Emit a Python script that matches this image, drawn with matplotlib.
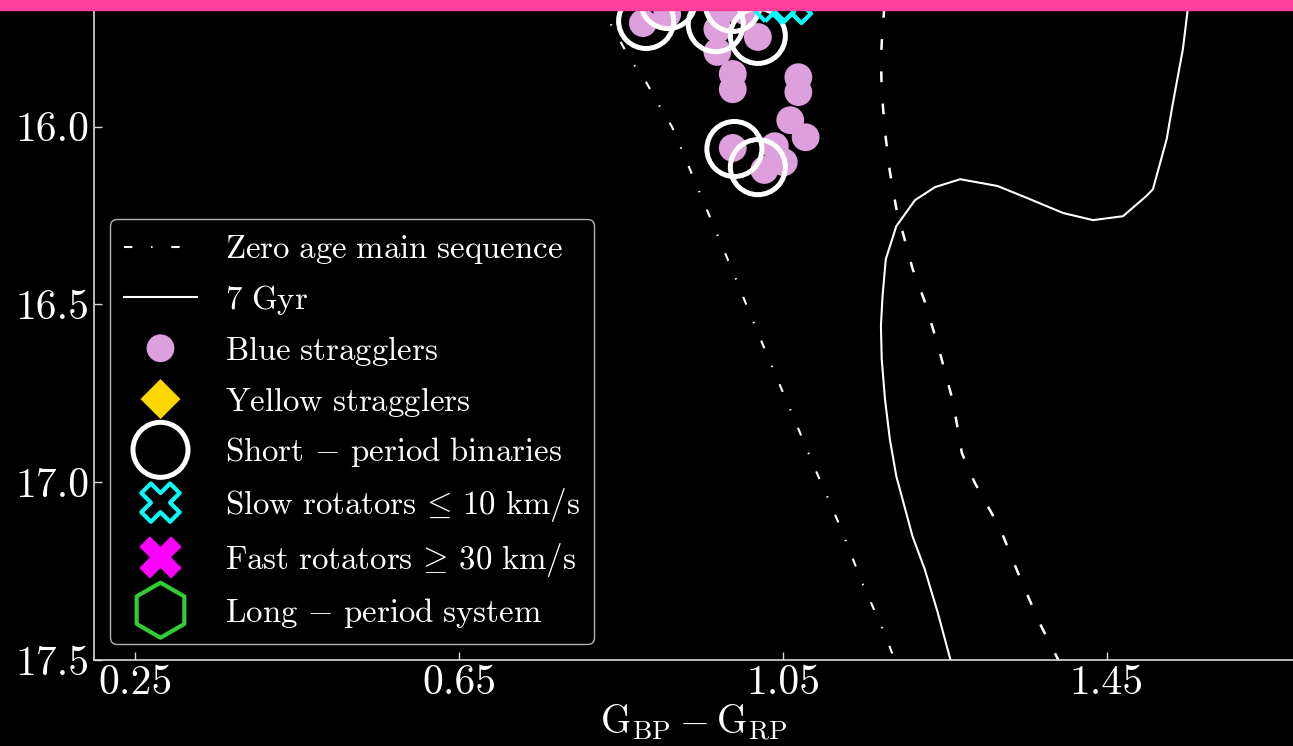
import matplotlib
matplotlib.use("Agg")
import numpy as np
import matplotlib.pyplot as plt
from matplotlib.patches import Rectangle

plt.rcParams["font.family"] = "serif"
plt.rcParams["font.serif"] = ["cmr10"]
plt.rcParams["mathtext.fontset"] = "cm"
plt.rcParams["axes.formatter.use_mathtext"] = True

# --- Colour-magnitude data (G_BP - G_RP, G) ---
zams_color = [0.824, 0.831, 0.846, 0.862, 0.881, 0.897, 0.913, 0.938, 0.964,
              0.990, 1.015, 1.041, 1.067, 1.093, 1.120, 1.149, 1.175, 1.190]
zams_mag = [15.627, 15.686, 15.748, 15.813, 15.875, 15.940, 16.001, 16.136,
            16.277, 16.418, 16.558, 16.699, 16.839, 16.980, 17.121, 17.289,
            17.422, 17.512]

iso_color = [1.392, 1.367, 1.343, 1.318, 1.287, 1.271, 1.260, 1.241, 1.225,
             1.210, 1.201, 1.190, 1.182, 1.176, 1.172, 1.171, 1.173, 1.177,
             1.190, 1.213, 1.238, 1.269, 1.315, 1.355, 1.396, 1.433, 1.470,
             1.499, 1.507, 1.524, 1.531, 1.544, 1.550, 1.554]
iso_mag = [18.261, 18.149, 18.023, 17.882, 17.755, 17.671, 17.526, 17.365,
           17.244, 17.152, 17.076, 16.983, 16.879, 16.766, 16.654, 16.561,
           16.477, 16.373, 16.280, 16.207, 16.170, 16.148, 16.167, 16.204,
           16.243, 16.263, 16.252, 16.195, 16.176, 16.035, 15.942, 15.782,
           15.670, 15.613]
binary_offset = 0.753  # equal-mass binary sequence, 2.5 log10(2)

bss_color = [0.877, 0.907, 0.969, 0.969, 0.988, 0.988, 1.019, 1.003, 1.069,
             1.069, 1.059, 1.078, 0.988, 1.040, 1.051, 1.027, 0.975]
bss_mag = [15.709, 15.684, 15.726, 15.790, 15.852, 15.895, 15.748, 15.675,
           15.861, 15.903, 15.982, 16.030, 16.060, 16.055, 16.100, 16.122,
           15.675]

yss_color = []
yss_mag = []

spb_color = [0.881, 0.908, 0.967, 0.988, 1.019, 0.990, 1.019]
spb_mag = [15.703, 15.647, 15.712, 15.655, 15.745, 16.063, 16.114]

slow_color = [1.040, 1.061]
slow_mag = [15.650, 15.655]

fast_color = []
fast_mag = []

long_color = []
long_mag = []

xticks = [0.25, 0.65, 1.05, 1.45]
xtick_labels = ["0.25", "0.65", "1.05", "1.45"]
yticks = [16.0, 16.5, 17.0, 17.5]
ytick_labels = ["16.0", "16.5", "17.0", "17.5"]

# --- Figure ---
W, H = 1293, 746
fig = plt.figure(figsize=(W / 100, H / 100), dpi=100, facecolor="black")
ax = fig.add_axes([94 / W, 86 / H, (W - 94) / W, 660 / H], facecolor="black")

ax.plot(zams_color, zams_mag, color="white", lw=1.5,
        ls=(0, (4, 9, 0.7, 9)),
        label=r"$\mathrm{Zero\ age\ main\ sequence}$", zorder=2)
ax.plot(iso_color, iso_mag, color="white", lw=1.5,
        label=r"$\mathrm{7\ Gyr}$", zorder=2)
ax.plot(iso_color, np.array(iso_mag) - binary_offset, color="white", lw=1.8,
        ls=(0, (4.3, 8.6)), zorder=2)

ax.scatter(bss_color, bss_mag, s=400, color="#DDA0DD", edgecolors="none",
           label=r"$\mathrm{Blue\ stragglers}$", zorder=3)
ax.scatter(yss_color, yss_mag, s=415, marker="D", color="#FFD700",
           edgecolors="none", label=r"$\mathrm{Yellow\ stragglers}$", zorder=3)
ax.scatter(spb_color, spb_mag, s=1570, facecolors="none", edgecolors="white",
           linewidths=3.6,
           label=r"$\mathrm{Short}\,-\,\mathrm{period\ binaries}$", zorder=4)
ax.scatter(slow_color, slow_mag, s=760, marker="X", facecolors="none",
           edgecolors="cyan", linewidths=3,
           label=r"$\mathrm{Slow\ rotators}\,\leq\,\mathrm{10\ km/s}$", zorder=5)
ax.scatter(fast_color, fast_mag, s=930, marker="X", color="magenta",
           edgecolors="none",
           label=r"$\mathrm{Fast\ rotators}\,\geq\,\mathrm{30\ km/s}$", zorder=5)
ax.scatter(long_color, long_mag, s=1570, marker="h", facecolors="none",
           edgecolors="#32CD32", linewidths=3,
           label=r"$\mathrm{Long}\,-\,\mathrm{period\ system}$", zorder=5)

ax.set_xlim(0.199, 1.68)
ax.set_ylim(17.5, 17.5 - 660 / 355.6)
ax.set_xticks(xticks)
ax.set_xticklabels(xtick_labels)
ax.set_yticks(yticks)
ax.set_yticklabels(ytick_labels)
ax.tick_params(direction="in", length=6, width=1, colors="0.85",
               labelcolor="white", labelsize=30)
for side in ("top", "right"):
    ax.spines[side].set_visible(False)
for side in ("left", "bottom"):
    ax.spines[side].set_color("0.85")
    ax.spines[side].set_linewidth(1.2)

ax.set_xlabel(r"$\mathrm{G}_{\mathrm{BP}} - \mathrm{G}_{\mathrm{RP}}$",
              color="white", fontsize=28, labelpad=0)

leg = ax.legend(loc="lower left", fontsize=23.7, scatterpoints=1,
                scatteryoffsets=[0.5], facecolor="black", edgecolor="0.7",
                framealpha=1.0, labelcolor="white", labelspacing=0.51,
                handlelength=2.2, handletextpad=0.85, borderpad=0.42)
leg.get_frame().set_linewidth(1.0)

fig.add_artist(Rectangle((0, 1 - 10 / H), 1, 10 / H, transform=fig.transFigure,
                         color="#FF409A", zorder=20))

fig.savefig("out.png", dpi=100, facecolor="black")
